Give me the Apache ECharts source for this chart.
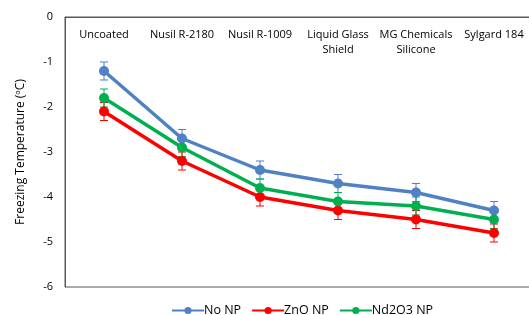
<!DOCTYPE html>
<html>
<head>
<meta charset="utf-8">
<script src="https://cdn.jsdelivr.net/npm/echarts@6/dist/echarts.min.js"></script>
<style>
html,body{margin:0;padding:0;background:#fff;}
#chart{width:529px;height:315px;}
</style>
</head>
<body>
<div id="chart"></div>
<script>
var categories = ['Uncoated', 'Nusil R-2180', 'Nusil R-1009', 'Liquid Glass\nShield', 'MG Chemicals\nSilicone', 'Sylgard 184'];
var noNP = [-1.2, -2.7, -3.4, -3.7, -3.9, -4.3];
var znoNP = [-2.1, -3.2, -4.0, -4.3, -4.5, -4.8];
var nd2o3NP = [-1.8, -2.9, -3.8, -4.1, -4.2, -4.5];
var errNoNP = [0.2, 0.2, 0.2, 0.2, 0.2, 0.2];
var errZnO = [0.2, 0.2, 0.2, 0.2, 0.2, 0.2];
var errNd2O3 = [0.2, 0.2, 0.2, 0.2, 0.2, 0.2];

var colBlue = '#4f81c4', colRed = '#ff0000', colGreen = '#00b050';
var font = 'Open Sans';

function errData(vals, errs) {
    return vals.map(function (v, i) { return [i, v - errs[i], v + errs[i]]; });
}

function errSeries(name, vals, errs, color) {
    return {
        type: 'custom',
        name: name,
        data: errData(vals, errs),
        z: 3,
        silent: true,
        renderItem: function (params, api) {
            var lo = api.coord([api.value(0), api.value(1)]);
            var hi = api.coord([api.value(0), api.value(2)]);
            var w = 4;
            var st = { stroke: color, lineWidth: 1 };
            return {
                type: 'group',
                children: [
                    { type: 'line', shape: { x1: lo[0], y1: lo[1], x2: hi[0], y2: hi[1] }, style: st },
                    { type: 'line', shape: { x1: lo[0] - w, y1: lo[1], x2: lo[0] + w, y2: lo[1] }, style: st },
                    { type: 'line', shape: { x1: hi[0] - w, y1: hi[1], x2: hi[0] + w, y2: hi[1] }, style: st }
                ]
            };
        }
    };
}

function lineSeries(name, vals, color) {
    return {
        name: name,
        type: 'line',
        data: vals,
        symbol: 'circle',
        symbolSize: 10,
        z: 4,
        lineStyle: { color: color, width: 3.5 },
        itemStyle: { color: color }
    };
}

var myChart = echarts.init(document.getElementById('chart'));
var option = {
    animation: false,
    textStyle: { fontFamily: font },
    grid: {
        left: 65, top: 17, width: 468, height: 270,
        outerBoundsMode: 'none',
        containLabel: false,
        show: true, borderColor: '#595959', borderWidth: 1
    },
    legend: {
        top: 299,
        left: 166,
        itemWidth: 32,
        itemHeight: 9,
        itemGap: 10,
        textStyle: { fontSize: 12.5, color: '#000', fontFamily: font, padding: [0, 0, 0, -5] },
        data: ['No NP', 'ZnO NP', 'Nd2O3 NP']
    },
    xAxis: {
        type: 'category',
        position: 'top',
        data: categories,
        axisLine: { lineStyle: { color: '#595959', width: 1 } },
        axisTick: { show: false },
        axisLabel: {
            inside: true,
            margin: 10,
            color: '#000',
            fontSize: 11,
            lineHeight: 15,
            verticalAlign: 'top',
            interval: 0
        }
    },
    yAxis: {
        type: 'value',
        min: -6,
        max: 0,
        interval: 1,
        name: 'Freezing Temperature (ºC)',
        nameLocation: 'middle',
        nameGap: 38,
        nameTextStyle: { fontSize: 12, color: '#000', fontFamily: font },
        axisLine: { show: true, lineStyle: { color: '#595959' } },
        axisTick: { show: false },
        splitLine: { show: false },
        axisLabel: { color: '#000', fontSize: 11, margin: 12 }
    },
    series: [
        lineSeries('No NP', noNP, colBlue),
        lineSeries('ZnO NP', znoNP, colRed),
        lineSeries('Nd2O3 NP', nd2o3NP, colGreen),
        errSeries('No NP', noNP, errNoNP, colBlue),
        errSeries('ZnO NP', znoNP, errZnO, colRed),
        errSeries('Nd2O3 NP', nd2o3NP, errNd2O3, colGreen)
    ]
};
myChart.setOption(option);
</script>
</body>
</html>
